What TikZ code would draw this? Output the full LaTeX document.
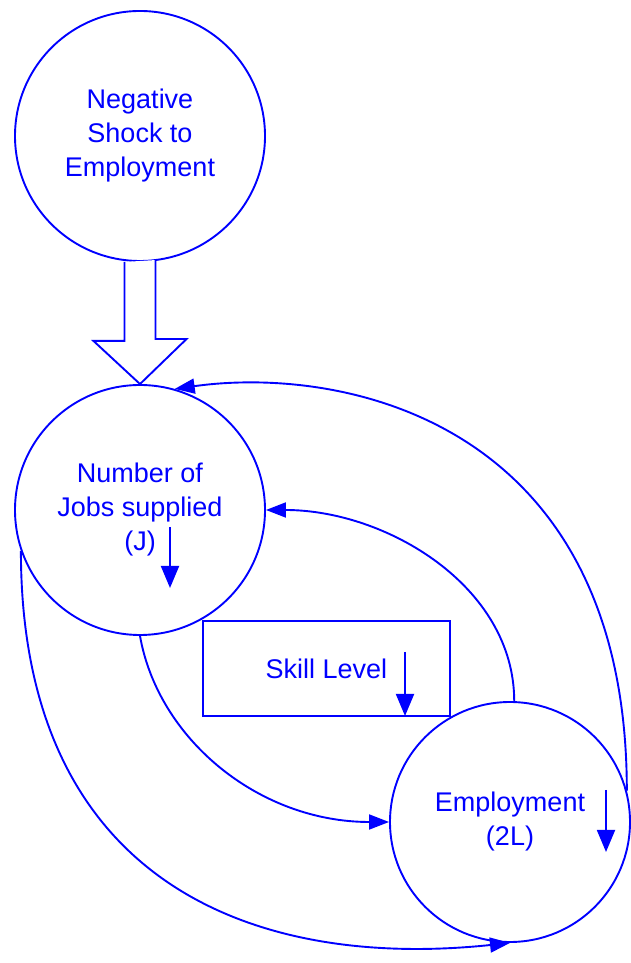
\documentclass[tikz,border=0pt]{standalone}
\usepackage{fontspec}
\setmainfont{Liberation Sans}
\usetikzlibrary{arrows.meta}
\begin{document}
\begin{tikzpicture}[x=1pt,y=1pt]
        		\tikzstyle{factor}=[circle,draw=blue,line width=1.9pt,text=blue,minimum size=250pt,inner sep=0pt,align=center,font=\fontsize{27}{34}\selectfont]
        		\tikzstyle{levelbox}=[rectangle,draw=blue,line width=1.9pt,text=blue,minimum width=247pt,minimum height=95pt,font=\fontsize{27}{34}\selectfont]
        		\tikzstyle{loopline}=[draw=blue,line width=1.9pt,-{Triangle[length=20pt,width=15pt]}]
        		\tikzstyle{trendline}=[draw=blue,line width=1.9pt,-{Triangle[length=22pt,width=18pt]}]
        		\useasboundingbox (0,0) rectangle (631,963);
       			\begin{scope}
         			\node [factor] (shock) at (140,827) {Negative\\Shock to\\Employment};
         			\node [factor] (jobs) at (140,453) {Number of\\Jobs supplied\\(J)};
         			\node [factor,minimum size=240pt] (empl) at (510,141) {Employment\\(2L)};
         			\node [levelbox] (skill) at (326.5,294.5) {Skill Level};
         			% shock arrow
         			\draw [blue,line width=1.9pt,fill=white,line join=miter] (shock.south) ++(-15.5,0) -- ++(0,-79) -- ++(-31,0) -- (jobs.north) -- ++(46.5,45) -- ++(-31,0) -- ++(0,79);
         			% trends
         			\draw [trendline] ([shift={(30,-17)}]jobs.center) -- ++(0,-61);
         			\draw [trendline] ([shift={(78.5,16.5)}]skill.center) -- ++(0,-64);
         			\draw [trendline] ([shift={(96,32)}]empl.center) -- ++(0,-62);
         			% loops
         			\draw [loopline] (empl.15) .. controls +(90:370) and +(8:170) .. (jobs.74);
         			\draw [loopline] (empl.88) .. controls +(90:115) and +(0:120) .. (jobs.east);
         			\draw [loopline] (jobs.south) .. controls +(-80:105) and +(180:130) .. (empl.west);
         			\draw [loopline] (jobs.199) .. controls +(-90:330) and +(186:260) .. (empl.south);
        		\end{scope}
      		\end{tikzpicture}
\end{document}
